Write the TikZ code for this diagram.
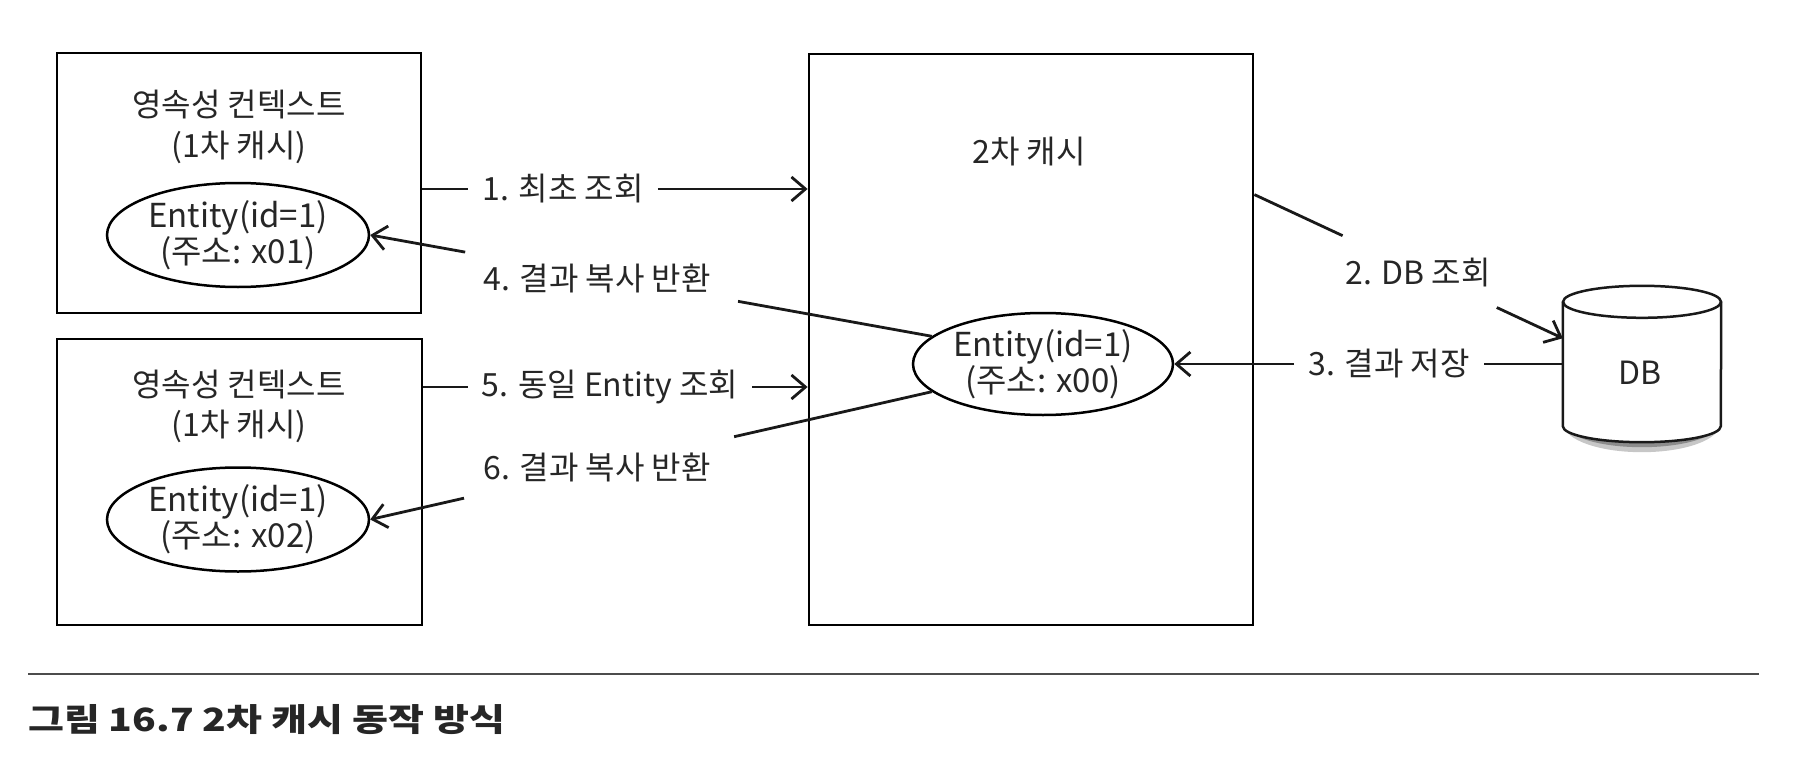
\documentclass[tikz,border=0pt]{standalone}
\usepackage{fontspec}
\setmainfont{Noto Sans CJK KR}
\usetikzlibrary{arrows.meta,calc,shapes.geometric}
\begin{document}
\begin{tikzpicture}[x=1pt,y=-1pt,
  every node/.style={text=black!85},
  box/.style={draw, line width=2.8pt, inner sep=0pt},
  ent/.style={ellipse, draw, line width=2.5pt, minimum width=262pt, minimum height=104pt, inner sep=0pt, align=center, font=\fontsize{33}{36}\selectfont},
  lbl/.style={inner xsep=14pt, inner ysep=2pt, font=\fontsize{32}{36}\selectfont},
  ttl/.style={align=center, font=\fontsize{32}{41}\selectfont},
  conn/.style={line width=2.8pt, draw=black!90},
  arr/.style={conn, -{Straight Barb[length=14pt,width=24pt,line width=2.8pt]}},
  cyl/.style={line width=2.5pt, draw=black!90, fill=white},
]
\useasboundingbox (0,0) rectangle (1800,760);

% boxes
\node[box, minimum width=364pt, minimum height=260pt] (pcA) at (239,183) {};
\node[box, minimum width=365pt, minimum height=286pt] (pcB) at (239.5,482) {};
\node[box, minimum width=444pt, minimum height=571pt] (l2c) at (1031,339.5) {};

% titles
\node[ttl] (tA) at (239,126.5) {영속성 컨텍스트\\(1차 캐시)};
\node[ttl, font=\fontsize{32}{40}\selectfont] (tB) at (239,406.5) {영속성 컨텍스트\\(1차 캐시)};
\node[ttl] (tC) at (1029,152) {2차 캐시};

% entities
\node[ent] (eA) at (238,235) {Entity(id=1)\\(주소: x01)};
\node[ent] (eB) at (238,519.5) {Entity(id=1)\\(주소: x02)};
\node[ent, minimum width=260pt, minimum height=102pt] (eC) at (1043,364) {Entity(id=1)\\(주소: x00)};

% DB cylinder
\node[minimum width=158pt, minimum height=156pt, inner sep=0pt] (db) at (1642,364) {};
\fill[black!22] ($(db.south west)+(1,-18)$) arc[start angle=180, end angle=360, x radius=78pt, y radius=28pt] -- cycle;
\fill[black!45] ($(db.south west)+(3,-18)$) arc[start angle=180, end angle=360, x radius=76pt, y radius=23pt] -- cycle;
\draw[cyl] ($(db.north west)+(0,16)$) -- ($(db.south west)+(0,-16)$)
   arc[start angle=180, end angle=360, x radius=79pt, y radius=16pt]
   -- ($(db.north east)+(0,16)$);
\draw[cyl] ($(db.north)+(0,16)$) ellipse [x radius=79pt, y radius=16pt];
\node[font=\fontsize{32}{36}\selectfont] (dbt) at (1640,373) {DB};

% 1
\node[lbl] (n1) at (563,189) {1. 최초 조회};
\draw[conn] (pcA.east |- n1) -- (n1.west);
\draw[arr] (n1.east) -- (l2c.west |- n1);

% 5
\node[lbl] (n5) at (610,387) {5. 동일 Entity 조회};
\draw[conn] (pcB.east |- n5) -- (n5.west);
\draw[arr] (n5.east) -- (l2c.west |- n5);

% 2
\coordinate (p2a) at ($(l2c.north east)+(0,142)$);
\node[lbl] (n2) at (1418,273) {2. DB 조회};
\draw[conn] (p2a) -- ($(p2a)!0.286!(db.162)$);
\draw[arr] ($(p2a)!0.786!(db.162)$) -- (db.162);

% 3
\node[lbl] (n3) at (1389,364) {3. 결과 저장};
\draw[conn] (db.west) -- (n3.east);
\draw[arr] (n3.west) -- (eC.east);

% 4
\node[lbl] (n4) at (597,278) {4. 결과 복사 반환};
\draw[conn] (eC.166) -- ($(eA.east)!0.655!(eC.166)$);
\draw[arr] ($(eA.east)!0.169!(eC.166)$) -- (eA.east);

% 6
\node[lbl] (n6) at (597,467) {6. 결과 복사 반환};
\draw[conn] (eC.194) -- ($(eB.east)!0.648!(eC.194)$);
\draw[arr] ($(eB.east)!0.167!(eC.194)$) -- (eB.east);

% caption
\coordinate (rl) at (28,674);
\coordinate (rr) at (1759,674);
\draw[line width=2.4pt, draw=black!70] (rl) -- (rr);
\node[anchor=west, inner sep=0pt, font=\bfseries\fontsize{32}{40}\selectfont] (cap) at (28,720) {\scalebox{1.22}[1]{그림 16.7 2차 캐시 동작 방식}};
\end{tikzpicture}
\end{document}
